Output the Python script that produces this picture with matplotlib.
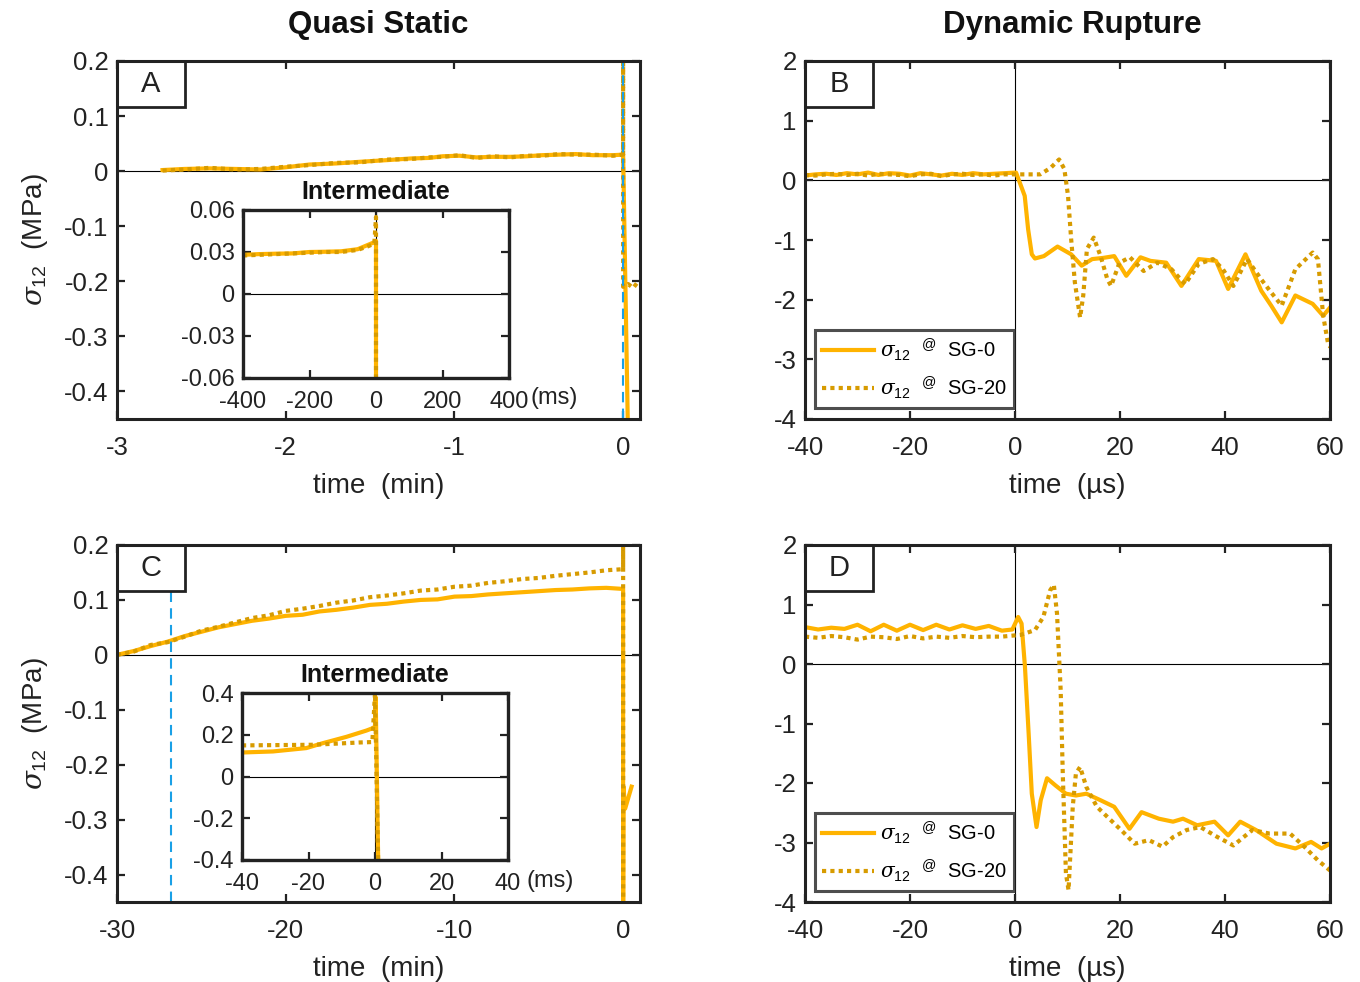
import matplotlib
matplotlib.use("Agg")
import matplotlib.pyplot as plt
from matplotlib.patches import Rectangle

plt.rcParams['font.family'] = ['Liberation Sans', 'DejaVu Sans']
plt.rcParams['axes.unicode_minus'] = False
plt.rcParams['mathtext.fontset'] = 'custom'
plt.rcParams['mathtext.rm'] = 'Liberation Sans'
plt.rcParams['mathtext.it'] = 'DejaVu Serif:italic'

SOLID_C = '#FFB300'
DOT_C = '#D79B00'
BLUE = '#1AA0E6'

# ---------------- Panel A (quasi static, minutes) ----------------
a_t = [-2.73, -2.6, -2.45, -2.3, -2.15, -2.0, -1.86, -1.7, -1.56, -1.4, -1.26,
       -1.15, -1.07, -0.97, -0.87, -0.77, -0.67, -0.57, -0.48, -0.38, -0.28,
       -0.18, -0.06, 0.0]
a_solid = [0.002, 0.004, 0.005, 0.004, 0.003, 0.007, 0.012, 0.014, 0.017, 0.020,
           0.023, 0.024, 0.027, 0.028, 0.025, 0.026, 0.026, 0.027, 0.029, 0.030,
           0.031, 0.029, 0.029, 0.030]
a_dot = [0.001, 0.003, 0.006, 0.003, 0.004, 0.008, 0.011, 0.015, 0.016, 0.021,
         0.022, 0.025, 0.026, 0.029, 0.024, 0.027, 0.025, 0.028, 0.028, 0.031,
         0.030, 0.030, 0.028, 0.030]
a_solid_post_t = [0.0, 0.03]
a_solid_post = [0.030, -0.50]
a_dot_post_t = [0.0, 0.0, 0.0, 0.03, 0.06, 0.09]
a_dot_post = [0.030, 0.25, -0.21, -0.205, -0.212, -0.20]
a_blue_t = 0.0

# inset A (ms)
ia_t = [-400, -350, -300, -250, -200, -150, -105, -55, -25, -5, 0, 0]
ia_solid = [0.028, 0.0285, 0.0288, 0.029, 0.030, 0.0302, 0.0305, 0.032, 0.035, 0.037, 0.038, -0.07]
ia_dot = [0.0275, 0.028, 0.0285, 0.029, 0.0295, 0.030, 0.030, 0.0315, 0.034, 0.036, 0.055, -0.07]

# ---------------- Panel C (quasi static, minutes) ----------------
c_t = list(range(-30, 1))
c_solid = [0.000, 0.007, 0.016, 0.024, 0.034, 0.042, 0.050, 0.056, 0.062, 0.066,
           0.071, 0.073, 0.079, 0.082, 0.086, 0.091, 0.093, 0.097, 0.100, 0.101,
           0.106, 0.107, 0.110, 0.112, 0.114, 0.116, 0.118, 0.119, 0.121, 0.122, 0.120]
c_dot = [0.000, 0.006, 0.018, 0.023, 0.033, 0.044, 0.051, 0.059, 0.067, 0.072,
         0.080, 0.084, 0.089, 0.095, 0.099, 0.105, 0.108, 0.112, 0.117, 0.119,
         0.124, 0.126, 0.131, 0.134, 0.138, 0.140, 0.144, 0.147, 0.150, 0.154, 0.156]
c_solid_post_t = [0.0, 0.0, 0.02, 0.12, 0.5]
c_solid_post = [0.120, -0.50, -0.24, -0.28, -0.24]
c_dot_post_t = [0.0, 0.0, 0.0]
c_dot_post = [0.156, 0.25, -0.50]
c_blue_t = -26.8

# inset C (ms)
ic_t_s = [-40, -30.7, -20.7, -15.6, -8.6, -2.6, -0.6, 0.0, 0.2, 1.0]
ic_solid = [0.115, 0.120, 0.136, 0.160, 0.190, 0.220, 0.232, 0.240, 0.38, -0.45]
ic_t_d = [-40, -18.6, -4.6, -0.8, 0.0, 1.0]
ic_dot = [0.149, 0.152, 0.163, 0.165, 0.40, -0.45]

# ---------------- Panel B (dynamic, microseconds) ----------------
b_t_s = [-40, -38, -36, -34, -32, -30, -28, -26, -24, -22, -20, -18, -16, -14, -12,
         -10, -8, -6, -4, -2, 0.2, 1.85, 2.5, 3.2, 3.8, 5.5, 8.1, 10.7, 12.7, 14.7,
         16.8, 18.9, 21.2, 23.9, 25.8, 28.8, 31.7, 35.0, 38.3, 40.6, 43.9, 46.9,
         48.8, 50.8, 53.4, 56.7, 58.7, 60.3]
b_solid = [0.08, 0.10, 0.11, 0.09, 0.12, 0.10, 0.13, 0.09, 0.12, 0.11, 0.08, 0.12,
           0.10, 0.08, 0.11, 0.09, 0.12, 0.10, 0.11, 0.12, 0.13, -0.26, -0.82, -1.24,
           -1.31, -1.27, -1.11, -1.24, -1.43, -1.32, -1.30, -1.27, -1.60, -1.29,
           -1.35, -1.38, -1.77, -1.32, -1.35, -1.82, -1.24, -1.85, -2.10, -2.38,
           -1.93, -2.07, -2.27, -2.10]
b_t_d = [-40, -38, -36, -34, -32, -30, -28, -26, -24, -22, -20, -18, -16, -14, -12,
         -10, -8, -6, -4, -2, 0.9, 4.8, 6.8, 8.4, 9.4, 10.1, 10.7, 11.4, 12.4, 13.0,
         13.7, 15.0, 16.3, 17.6, 18.3, 19.9, 21.9, 24.5, 27.1, 29.8, 32.4, 35.0,
         37.7, 39.6, 41.6, 44.2, 46.9, 48.8, 50.8, 53.4, 56.7, 57.7, 58.7, 59.7, 60.3]
b_dot = [0.09, 0.08, 0.10, 0.11, 0.09, 0.11, 0.08, 0.11, 0.10, 0.09, 0.07, 0.10,
         0.11, 0.07, 0.10, 0.11, 0.09, 0.10, 0.08, 0.10, 0.10, 0.10, 0.21, 0.35,
         0.19, -0.26, -0.99, -1.71, -2.30, -1.93, -1.15, -0.96, -1.27, -1.66,
         -1.77, -1.38, -1.29, -1.52, -1.38, -1.49, -1.74, -1.40, -1.32, -1.49,
         -1.77, -1.32, -1.66, -1.88, -2.10, -1.49, -1.21, -1.32, -2.27, -2.77, -2.80]

# ---------------- Panel D (dynamic, microseconds) ----------------
d_t_s = [-40, -37.5, -35, -32.5, -30, -27.5, -25, -22.5, -20, -17.5, -15, -12.5,
         -10, -7.5, -5, -2.5, -0.5, 0.6, 1.25, 1.9, 2.6, 3.2, 4.1, 4.9, 6.1, 7.7,
         9.7, 11.6, 13.6, 16.3, 18.9, 21.8, 24.1, 27.4, 30.1, 32.0, 34.7, 38.0,
         40.6, 42.9, 45.9, 49.8, 53.4, 56.4, 58.4, 60.0]
d_solid = [0.62, 0.58, 0.61, 0.59, 0.66, 0.55, 0.66, 0.56, 0.66, 0.57, 0.66, 0.58,
           0.65, 0.59, 0.64, 0.56, 0.58, 0.79, 0.68, -0.05, -1.17, -2.18, -2.74,
           -2.29, -1.92, -2.04, -2.18, -2.21, -2.18, -2.29, -2.40, -2.77, -2.49,
           -2.60, -2.65, -2.60, -2.71, -2.65, -2.88, -2.65, -2.79, -3.02, -3.10,
           -2.99, -3.10, -3.02]
d_t_d = [-40, -37.5, -35, -32.5, -30, -27.5, -25, -22.5, -20, -17.5, -15, -12.5,
         -10, -7.5, -5, -2.5, 1.1, 3.8, 5.4, 6.7, 7.4, 8.0, 8.7, 9.1, 9.7, 10.2,
         11.0, 11.6, 12.4, 13.6, 15.6, 17.6, 20.2, 22.8, 25.5, 28.1, 30.1, 32.7,
         35.3, 38.6, 41.6, 45.2, 48.5, 52.4, 55.1, 57.7, 60.0]
d_dot = [0.46, 0.44, 0.47, 0.45, 0.41, 0.46, 0.45, 0.42, 0.47, 0.43, 0.46, 0.44,
         0.47, 0.45, 0.46, 0.46, 0.49, 0.57, 0.79, 1.24, 1.33, 0.85, -0.44, -1.84,
         -3.52, -3.80, -2.40, -1.84, -1.73, -2.07, -2.40, -2.57, -2.79, -3.02,
         -2.96, -3.07, -2.91, -2.79, -2.74, -2.91, -3.05, -2.79, -2.85, -2.85,
         -3.07, -3.30, -3.47]

qs_yticks = [0.2, 0.1, 0, -0.1, -0.2, -0.3, -0.4]
qs_yticklabels = ['0.2', '0.1', '0', '-0.1', '-0.2', '-0.3', '-0.4']
a_xticks = [-3, -2, -1, 0]
c_xticks = [-30, -20, -10, 0]
dyn_xticks = [-40, -20, 0, 20, 40, 60]
dyn_yticks = [2, 1, 0, -1, -2, -3, -4]
ia_xticks = [-400, -200, 0, 200, 400]
ia_yticks = [0.06, 0.03, 0, -0.03, -0.06]
ia_yticklabels = ['0.06', '0.03', '0', '-0.03', '-0.06']
ic_xticks = [-40, -20, 0, 20, 40]
ic_yticks = [0.4, 0.2, 0, -0.2, -0.4]
ic_yticklabels = ['0.4', '0.2', '0', '-0.2', '-0.4']
legend_labels = [r'$\sigma_{12}$  $^{@}$  SG-0', r'$\sigma_{12}$  $^{@}$  SG-20']

W, H = 1360, 982
fig = plt.figure(figsize=(W / 100, H / 100), dpi=100)


def px_axes(l, t, r, b):
    return fig.add_axes([l / W, 1 - b / H, (r - l) / W, (b - t) / H])


def style(ax, fs=18.5, lw=2.2, xpad=12.5, ypad=6):
    for s in ax.spines.values():
        s.set_linewidth(lw)
        s.set_color('#222222')
        s.set_zorder(10)
    ax.tick_params(direction='in', length=6, width=1.6, top=True, right=True,
                   labelsize=fs, colors='#222222', labelcolor='#222222')
    ax.tick_params(axis='x', pad=xpad)
    ax.tick_params(axis='y', pad=ypad)


def label_box(ax, letter):
    w = 68 / (ax.get_position().width * W)
    h = 46 / (ax.get_position().height * H)
    ax.add_patch(Rectangle((0, 1 - h), w, h, transform=ax.transAxes,
                           facecolor='white', edgecolor='#222222', lw=2.0, zorder=8,
                           clip_on=False))
    ax.text(w / 2, 1 - h / 2, letter, transform=ax.transAxes, ha='center',
            va='center', fontsize=21, zorder=9, color='#222222')


LW = 3.0
DOT = (0, (1, 1))
LABFS = 20

# ---- A ----
axA = px_axes(117, 61, 640, 419)
axA.axhline(0, color='black', lw=0.8, zorder=1)
axA.plot(a_t + a_solid_post_t, a_solid + a_solid_post, color=SOLID_C, lw=LW, zorder=3)
axA.plot(a_t + a_dot_post_t, a_dot + a_dot_post, color=DOT_C, lw=LW, ls=DOT, zorder=4)
axA.axvline(a_blue_t, color=BLUE, lw=1.5, ls=(0, (5, 3)), zorder=5)
axA.set_xlim(-3, 0.1)
axA.set_ylim(-0.45, 0.2)
axA.set_xticks(a_xticks)
axA.set_xticklabels([str(v) for v in a_xticks])
axA.set_yticks(qs_yticks)
axA.set_yticklabels(qs_yticklabels)
style(axA)
axA.set_xlabel('time  (min)', fontsize=LABFS, labelpad=9, color='#222222')
axA.set_ylabel(r'$\sigma_{12}$  (MPa)', fontsize=LABFS, labelpad=10, color='#222222')
label_box(axA, 'A')

# ---- B ----
axB = px_axes(805, 61, 1330, 419)
axB.axhline(0, color='black', lw=0.8, zorder=1)
axB.axvline(0, color='black', lw=0.8, zorder=1)
l1, = axB.plot(b_t_s, b_solid, color=SOLID_C, lw=LW, zorder=3)
l2, = axB.plot(b_t_d, b_dot, color=DOT_C, lw=LW, ls=DOT, zorder=4)
axB.set_xlim(-40, 60)
axB.set_ylim(-4, 2)
axB.set_xticks(dyn_xticks)
axB.set_xticklabels([str(v) for v in dyn_xticks])
axB.set_yticks(dyn_yticks)
axB.set_yticklabels([str(v) for v in dyn_yticks])
style(axB)
axB.set_xlabel('time  (µs)', fontsize=LABFS, labelpad=9, color='#222222')
label_box(axB, 'B')

# ---- C ----
axC = px_axes(117, 545, 640, 902)
axC.axhline(0, color='black', lw=0.8, zorder=1)
axC.plot(c_t + c_solid_post_t, c_solid + c_solid_post, color=SOLID_C, lw=LW, zorder=3)
axC.plot(c_t + c_dot_post_t, c_dot + c_dot_post, color=DOT_C, lw=LW, ls=DOT, zorder=4)
axC.axvline(c_blue_t, color=BLUE, lw=1.5, ls=(0, (5, 3)), zorder=5)
axC.set_xlim(-30, 1)
axC.set_ylim(-0.45, 0.2)
axC.set_xticks(c_xticks)
axC.set_xticklabels([str(v) for v in c_xticks])
axC.set_yticks(qs_yticks)
axC.set_yticklabels(qs_yticklabels)
style(axC)
axC.set_xlabel('time  (min)', fontsize=LABFS, labelpad=9, color='#222222')
axC.set_ylabel(r'$\sigma_{12}$  (MPa)', fontsize=LABFS, labelpad=10, color='#222222')
label_box(axC, 'C')

# ---- D ----
axD = px_axes(805, 545, 1330, 902)
axD.axhline(0, color='black', lw=0.8, zorder=1)
axD.axvline(0, color='black', lw=0.8, zorder=1)
m1, = axD.plot(d_t_s, d_solid, color=SOLID_C, lw=LW, zorder=3)
m2, = axD.plot(d_t_d, d_dot, color=DOT_C, lw=LW, ls=DOT, zorder=4)
axD.set_xlim(-40, 60)
axD.set_ylim(-4, 2)
axD.set_xticks(dyn_xticks)
axD.set_xticklabels([str(v) for v in dyn_xticks])
axD.set_yticks(dyn_yticks)
axD.set_yticklabels([str(v) for v in dyn_yticks])
style(axD)
axD.set_xlabel('time  (µs)', fontsize=LABFS, labelpad=9, color='#222222')
label_box(axD, 'D')

for ax, h1, h2 in [(axB, l1, l2), (axD, m1, m2)]:
    leg = ax.legend([h1, h2], legend_labels, loc='lower left',
                    bbox_to_anchor=(0.019, 0.031), borderaxespad=0, fontsize=14.5,
                    frameon=True, fancybox=False, handlelength=2.6,
                    handletextpad=0.3, borderpad=0.35, labelspacing=0.55)
    leg.get_frame().set_edgecolor('#222222')
    leg.get_frame().set_linewidth(2.2)
    leg.set_zorder(12)

# ---- insets ----
iA = px_axes(243, 210, 509, 378)
iA.axhline(0, color='black', lw=0.8, zorder=1)
iA.axvline(0, color='black', lw=0.8, zorder=1)
iA.plot(ia_t, ia_solid, color=SOLID_C, lw=LW, zorder=3)
iA.plot(ia_t, ia_dot, color=DOT_C, lw=LW, ls=DOT, zorder=4)
iA.set_xlim(-400, 400)
iA.set_ylim(-0.06, 0.06)
iA.set_xticks(ia_xticks)
iA.set_xticklabels([str(v) for v in ia_xticks])
iA.set_yticks(ia_yticks)
iA.set_yticklabels(ia_yticklabels)
style(iA, fs=17, lw=2.4, xpad=9, ypad=6)
iA.set_title('Intermediate', fontsize=18, fontweight='bold', pad=8, color='#111111')
iA.text(1.17, -0.12, '(ms)', transform=iA.transAxes, ha='center', va='center',
        fontsize=17, color='#222222')

iC = px_axes(242, 693, 508, 860)
iC.axhline(0, color='black', lw=0.8, zorder=1)
iC.axvline(0, color='black', lw=0.8, zorder=1)
iC.plot(ic_t_s, ic_solid, color=SOLID_C, lw=LW, zorder=3)
iC.plot(ic_t_d, ic_dot, color=DOT_C, lw=LW, ls=DOT, zorder=4)
iC.set_xlim(-40, 40)
iC.set_ylim(-0.4, 0.4)
iC.set_xticks(ic_xticks)
iC.set_xticklabels([str(v) for v in ic_xticks])
iC.set_yticks(ic_yticks)
iC.set_yticklabels(ic_yticklabels)
style(iC, fs=17, lw=2.4, xpad=9, ypad=6)
iC.set_title('Intermediate', fontsize=18, fontweight='bold', pad=8, color='#111111')
iC.text(1.16, -0.125, '(ms)', transform=iC.transAxes, ha='center', va='center',
        fontsize=17, color='#222222')

fig.text(378 / W, 1 - 25 / H, 'Quasi Static', ha='center', va='center',
         fontsize=22.5, fontweight='bold', color='#111111')
fig.text(1072 / W, 1 - 25 / H, 'Dynamic Rupture', ha='center', va='center',
         fontsize=22.5, fontweight='bold', color='#111111')

fig.savefig('out.png', dpi=100)
